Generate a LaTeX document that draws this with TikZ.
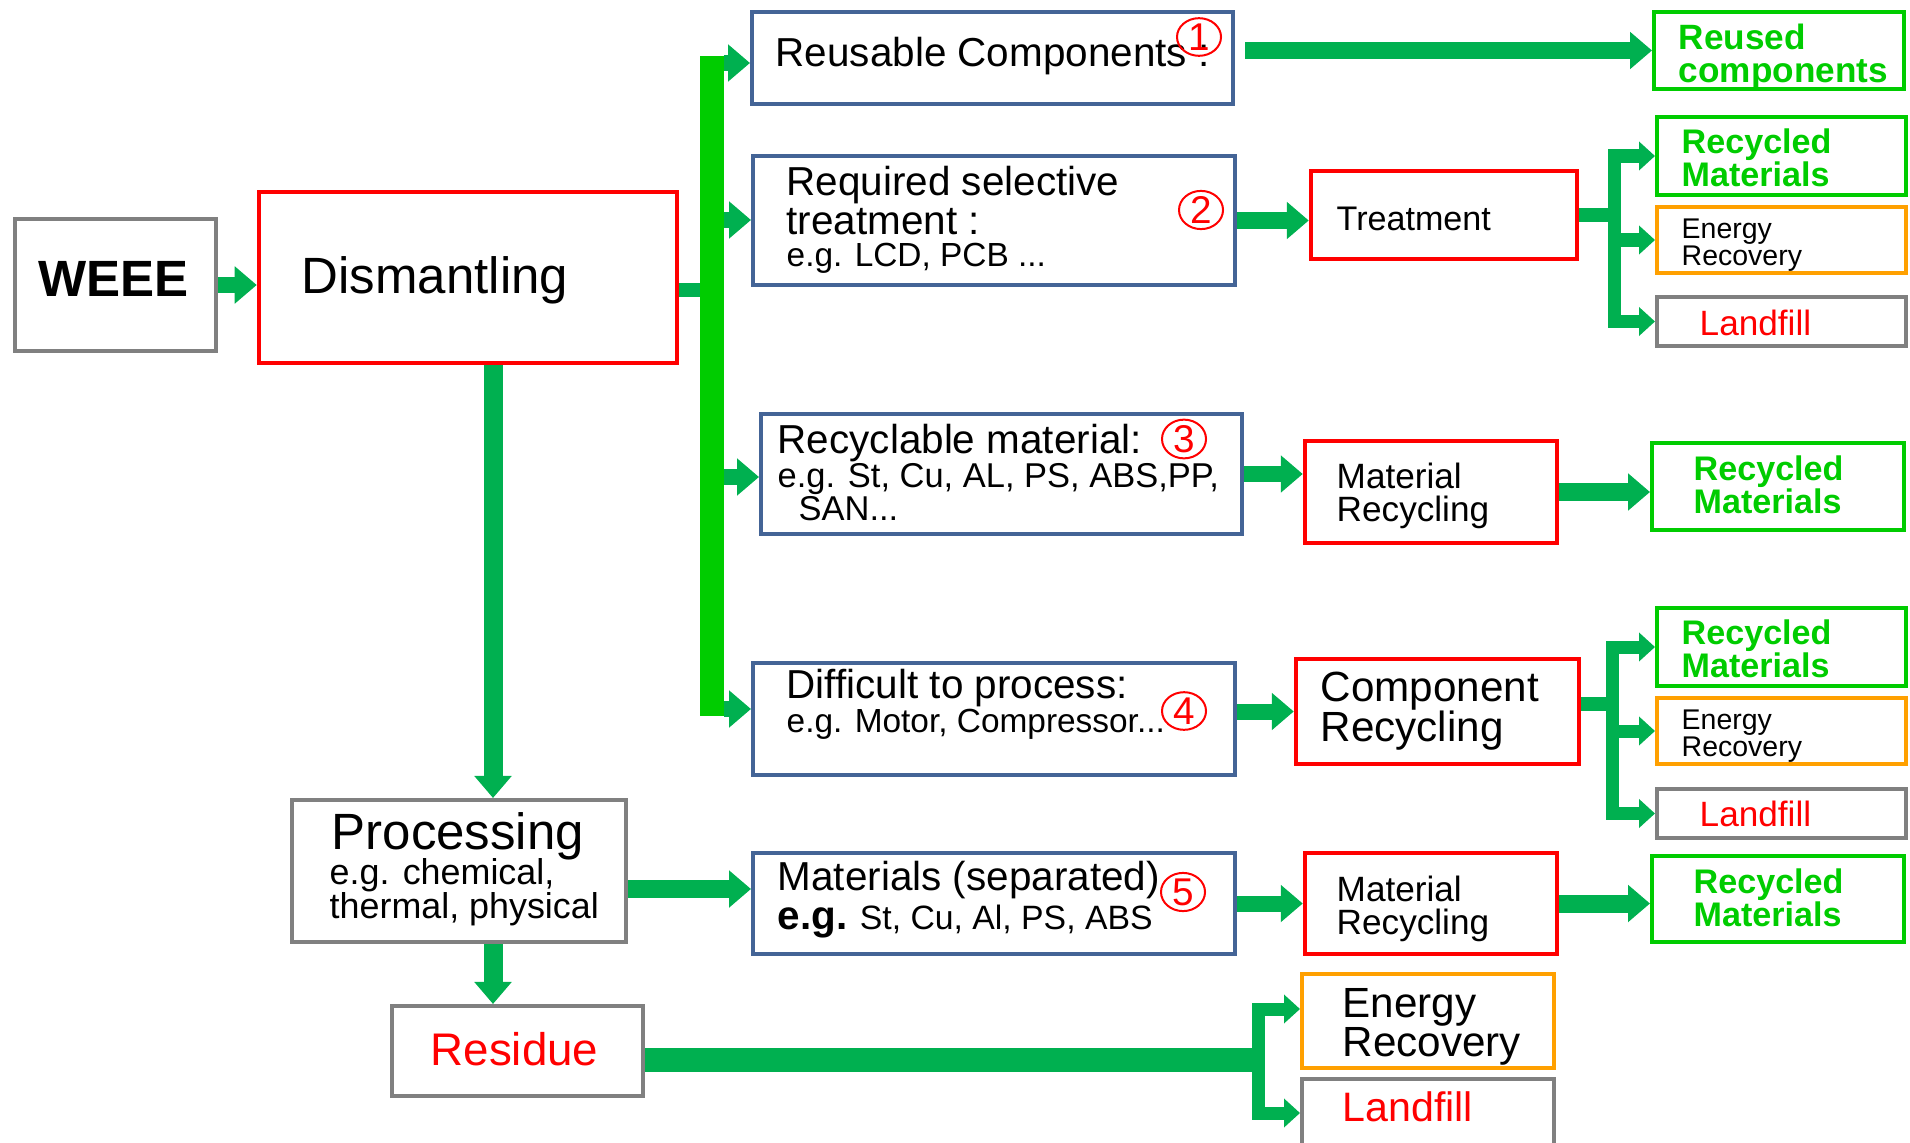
\documentclass[tikz,border=0pt]{standalone}
\usepackage{fontspec}
\setmainfont{Liberation Sans}
\usetikzlibrary{arrows.meta, fit, calc, shapes.geometric}

\definecolor{boxblue}{RGB}{68,100,150}
\definecolor{boxgrey}{RGB}{128,128,128}
\definecolor{boxgreen}{RGB}{0,204,0}
\definecolor{boxorange}{RGB}{255,160,0}
\definecolor{arrgreen}{RGB}{0,176,80}

\begin{document}
\begin{tikzpicture}[x=0.01cm, y=-0.01cm]
    % Styles
    \tikzstyle{bluebox} = [draw=boxblue, line width=0.04cm, inner sep=0pt]
    \tikzstyle{redbox} = [draw=red, line width=0.045cm, inner sep=0pt]
    \tikzstyle{greybox} = [draw=boxgrey, line width=0.04cm, inner sep=0pt]
    \tikzstyle{greenbox} = [draw=boxgreen, line width=0.04cm, inner sep=0pt]
    \tikzstyle{orangebox} = [draw=boxorange, line width=0.04cm, inner sep=0pt]
    \tikzstyle{txt} = [anchor=west, inner sep=0pt, align=left]
    \tikzstyle{gtxt} = [txt, text=boxgreen, font=\bfseries\fontsize{9.7}{9.4}\selectfont]
    \tikzstyle{flow} = [draw=arrgreen, line width=0.16cm, -{Triangle[length=0.22cm, width=0.36cm]}]
    \tikzstyle{branch} = [draw=arrgreen, line width=0.13cm, -{Triangle[length=0.16cm, width=0.28cm]}]
    \tikzstyle{stub} = [draw=arrgreen, line width=0.14cm]
    \tikzstyle{trunk} = [draw=boxgreen, line width=0.24cm]
    \tikzstyle{num} = [ellipse, draw=red, line width=0.02cm, inner sep=0pt, minimum width=0.44cm, minimum height=0.34cm, text=red, font=\fontsize{11}{11}\selectfont]

    \useasboundingbox (0,0) rectangle (1910,1143);

    % Boxes
    \node[greybox, fit={(15,219) (216,351)}] (weee) {};
    \node[redbox, fit={(259,192) (677,363)}] (dism) {};
    \node[bluebox, fit={(752,12) (1233,104)}] (reuse) {};
    \node[bluebox, fit={(753,156) (1235,285)}] (selec) {};
    \node[bluebox, fit={(761,414) (1242,534)}] (recyc) {};
    \node[bluebox, fit={(753,663) (1235,775)}] (diffi) {};
    \node[greybox, fit={(292,800) (626,942)}] (proc) {};
    \node[bluebox, fit={(753,853) (1235,954)}] (matsep) {};
    \node[greybox, fit={(392,1006) (643,1096)}] (resid) {};
    \node[redbox, fit={(1311,171) (1577,259)}] (treat) {};
    \node[redbox, fit={(1305,441) (1557,543)}] (mrec3) {};
    \node[redbox, fit={(1296,659) (1579,764)}] (comp) {};
    \node[redbox, fit={(1305,853) (1557,954)}] (mrec5) {};
    \node[orangebox, fit={(1302,974) (1554,1068)}] (ener5) {};
    \node[greybox, fit={(1302,1079) (1554,1147)}] (land5) {};
    \node[greenbox, fit={(1654,12) (1904,89)}] (reused) {};
    \node[greenbox, fit={(1657,117) (1906,195)}] (rm2) {};
    \node[orangebox, fit={(1657,207) (1906,273)}] (er2) {};
    \node[greybox, fit={(1657,297) (1906,346)}] (lf2) {};
    \node[greenbox, fit={(1652,443) (1904,530)}] (rm3) {};
    \node[greenbox, fit={(1657,608) (1906,686)}] (rm4) {};
    \node[orangebox, fit={(1657,698) (1906,764)}] (er4) {};
    \node[greybox, fit={(1657,789) (1906,838)}] (lf4) {};
    \node[greenbox, fit={(1652,856) (1904,942)}] (rm5) {};

    % Texts
    \node[txt, font=\bfseries\fontsize{14.5}{14.5}\selectfont] (weeeT) at (38,279) {WEEE};
    \node[txt, font=\fontsize{14.5}{14.5}\selectfont] (dismT) at (301,280) {Dismantling};
    \node[txt, font=\fontsize{11.5}{11.5}\selectfont] (reuseT) at (775,56) {Reusable Components :};
    \node[txt, font=\fontsize{11.5}{11.1}\selectfont] (selT1) at (786,201) {Required selective\\treatment :};
    \node[txt, font=\fontsize{9.5}{9.5}\selectfont] (selT2) at (786,258) {e.g. LCD, PCB ...};
    \node[txt, font=\fontsize{11.5}{11.5}\selectfont] (recT1) at (777,443) {Recyclable material:};
    \node[txt, font=\fontsize{9.8}{9.8}\selectfont] (recT2) at (777,479) {e.g. St, Cu, AL, PS, ABS,PP,};
    \node[txt, font=\fontsize{9.8}{9.8}\selectfont] (recT3) at (798,509) {SAN...};
    \node[txt, font=\fontsize{11.5}{11.5}\selectfont] (difT1) at (786,688) {Difficult to process:};
    \node[txt, font=\fontsize{9.5}{9.5}\selectfont] (difT2) at (786,724) {e.g. Motor, Compressor...};
    \node[txt, font=\fontsize{11.5}{11.5}\selectfont] (matT1) at (777,880) {Materials (separated)};
    \node[txt, font=\fontsize{9.6}{9.6}\selectfont] (matT2) at (777,922) {{\bfseries\fontsize{11.5}{11.5}\selectfont e.g.} St, Cu, Al, PS, ABS};
    \node[txt, font=\fontsize{14.5}{14.5}\selectfont] (procT1) at (331,836) {Processing};
    \node[txt, font=\fontsize{10.2}{9.7}\selectfont] (procT2) at (329,892) {e.g. chemical,\\thermal, physical};
    \node[txt, text=red, font=\fontsize{13}{13}\selectfont] (resT) at (430,1049) {Residue};
    \node[txt, font=\fontsize{9.7}{9.7}\selectfont] (treatT) at (1336,219) {Treatment};
    \node[txt, font=\fontsize{10}{9.4}\selectfont] (mr3T) at (1336,496) {Material\\Recycling};
    \node[txt, font=\fontsize{12}{11.4}\selectfont] (compT) at (1320,711) {Component\\Recycling};
    \node[txt, font=\fontsize{10}{9.4}\selectfont] (mr5T) at (1336,909) {Material\\Recycling};
    \node[txt, font=\fontsize{12}{11.1}\selectfont] (er5T) at (1342,1027) {Energy\\Recovery};
    \node[txt, text=red, font=\fontsize{11.7}{11.7}\selectfont] (lf5T) at (1342,1107) {Landfill};
    \node[gtxt, font=\bfseries\fontsize{10}{9.4}\selectfont] (reusedT) at (1678,57) {Reused\\components};
    \node[gtxt] (rm2T) at (1681,158) {Recycled\\Materials};
    \node[txt, font=\fontsize{8.1}{7.7}\selectfont] (er2T) at (1681,245) {Energy\\Recovery};
    \node[txt, text=red, font=\fontsize{10}{10}\selectfont] (lf2T) at (1699,323) {Landfill};
    \node[gtxt] (rm3T) at (1693,485) {Recycled\\Materials};
    \node[gtxt] (rm4T) at (1681,649) {Recycled\\Materials};
    \node[txt, font=\fontsize{8.1}{7.7}\selectfont] (er4T) at (1681,736) {Energy\\Recovery};
    \node[txt, text=red, font=\fontsize{10}{10}\selectfont] (lf4T) at (1699,814) {Landfill};
    \node[gtxt] (rm5T) at (1693,898) {Recycled\\Materials};

    % Numbers
    \node[num] (c1) at (1199,37) {1};
    \node[num] (c2) at (1201,210) {2};
    \node[num] (c3) at (1184,439) {3};
    \node[num] (c4) at (1184,711) {4};
    \node[num] (c5) at (1183,892) {5};

    % Junctions
    \coordinate (tk) at (712,290);
    \coordinate (ttop) at (712,56);
    \coordinate (tbot) at (712,716);
    \coordinate (b1) at (724,63);
    \coordinate (b2) at (724,220);
    \coordinate (b3) at (724,477);
    \coordinate (b4) at (724,709);
    \coordinate (dp) at (493,0);
    \coordinate (pm) at (0,889);
    \coordinate (j2) at (1614,215);
    \coordinate (j4) at (1612,704);
    \coordinate (jr) at (1258,1060);

    % Arrows
    \draw[flow] (weee.east) -- (weee.east -| dism.west);
    \draw[stub] (tk -| dism.east) -- (tk);
    \draw[trunk] (ttop) -- (tbot);
    \draw[flow] (b1) -- (b1 -| reuse.west);
    \draw[flow] (b2) -- (b2 -| selec.west);
    \draw[flow] (b3) -- (b3 -| recyc.west);
    \draw[flow] (b4) -- (b4 -| diffi.west);
    \draw[flow, line width=0.19cm] (dp |- dism.south) -- (dp |- proc.north);
    \draw[flow, line width=0.19cm] (dp |- proc.south) -- (dp |- resid.north);
    \draw[flow, line width=0.18cm] (pm -| proc.east) -- (pm -| matsep.west);
    \draw[flow, line width=0.17cm, shorten <=0.1cm] (reused.west -| reuse.east) -- (reused.west);
    \draw[flow] (selec.east) -- (selec.east -| treat.west);
    \draw[stub] (treat.east) -- (j2);
    \draw[branch] (j2) |- (rm2);
    \draw[branch] (j2) |- (er2);
    \draw[branch] (j2) |- (lf2);
    \draw[flow] (recyc.east) -- (recyc.east -| mrec3.west);
    \draw[flow, line width=0.18cm] (mrec3.east) -- (mrec3.east -| rm3.west);
    \draw[flow] (comp.west -| diffi.east) -- (comp.west);
    \draw[stub] (j4 -| comp.east) -- (j4);
    \draw[branch] (j4) |- (rm4);
    \draw[branch] (j4) |- (er4);
    \draw[branch] (j4) |- (lf4);
    \draw[flow] (matsep.east) -- (matsep.east -| mrec5.west);
    \draw[flow, line width=0.18cm] (mrec5.east) -- (mrec5.east -| rm5.west);
    \draw[draw=arrgreen, line width=0.24cm] (jr -| resid.east) -- (jr);
    \draw[branch] (jr) |- ($(ener5.west)+(0,-12)$);
    \draw[branch] (jr) |- (land5);
\end{tikzpicture}
\end{document}
